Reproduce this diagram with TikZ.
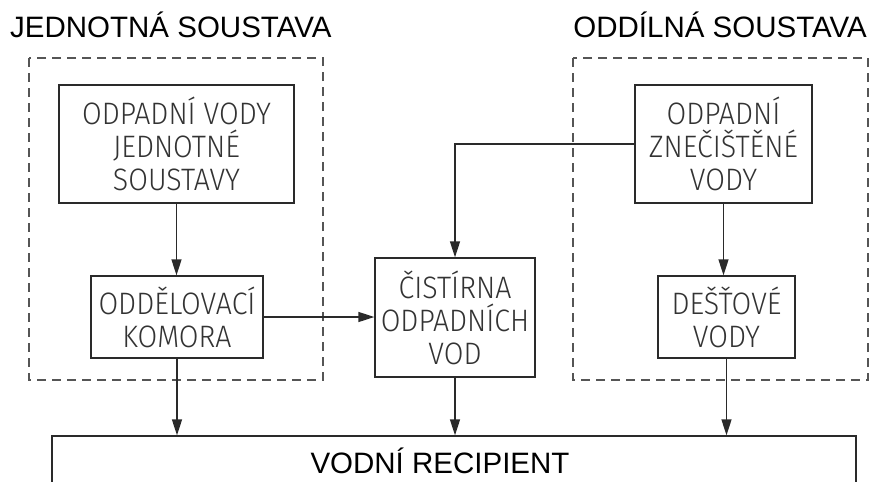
\documentclass[tikz,border=0pt]{standalone}
\usepackage{fontspec}
\setmainfont{Liberation Sans}
\newfontfamily\cadfont[FakeStretch=0.92]{Fira Sans Light}
\usetikzlibrary{arrows.meta}
\definecolor{linecol}{HTML}{2A2A2A}
\definecolor{dashcol}{HTML}{555555}
\definecolor{cadtext}{HTML}{333333}
\begin{document}
\begin{tikzpicture}[x=1pt,y=-1pt,
  box/.style={draw=linecol, line width=1.3pt, inner sep=0pt, align=center,
    text=cadtext, font=\cadfont\fontsize{31}{33}\selectfont},
  title/.style={inner sep=0pt, font=\fontsize{29.5}{32}\selectfont, text=black},
  group/.style={draw=dashcol, line width=1.3pt, dash pattern=on 9pt off 6pt},
  flow/.style={draw=linecol, line width=1.3pt, -{Triangle[length=16pt,width=10pt]}},
  plain/.style={draw=linecol, line width=1.3pt}]
\useasboundingbox (0,0) rectangle (873,482);
\clip (0,0) rectangle (873,482);
\fill[white] (0,0) rectangle (873,482);

% titles
\node[title, anchor=base west] (t1) at (10,37) {JEDNOTNÁ SOUSTAVA};
\node[title, anchor=base east] (t2) at (867,37) {ODDÍLNÁ SOUSTAVA};

% dashed group frames
\draw[group] (29,58) rectangle (323,380);
\draw[group] (573,58) rectangle (868,380);

% boxes
\node[box, minimum width=235pt, minimum height=118pt] (A) at (176.5,144) {ODPADNÍ VODY\\JEDNOTNÉ\\SOUSTAVY};
\node[box, minimum width=172pt, minimum height=82pt] (B) at (177,317) {ODDĚLOVACÍ\\KOMORA};
\node[box, minimum width=160pt, minimum height=119pt] (C) at (455,317.5) {ČISTÍRNA\\ODPADNÍCH\\VOD};
\node[box, minimum width=177pt, minimum height=118pt] (D) at (723.5,144) {ODPADNÍ\\ZNEČIŠTĚNÉ\\VODY};
\node[box, minimum width=137pt, minimum height=82pt] (E) at (726.5,317) {DEŠŤOVÉ\\VODY};

% recipient (open at the bottom, cut by the page edge)
\node[draw=linecol, line width=1.3pt, minimum width=804pt, minimum height=60pt, inner sep=0pt] (R) at (454,466) {};
\node[title, anchor=base] (Rt) at (440,473) {VODNÍ RECIPIENT};

% connectors
\draw[flow] (A.south) -- (A.south |- B.north);
\draw[flow] (B.east) -- (B.east -| C.west);
\draw[flow] (D.west) -- (C.north |- D.west) -- (C.north);
\draw[flow] (D.south) -- (D.south |- E.north);
\draw[flow] (B.south) -- (B.south |- R.north);
\draw[flow] (C.south) -- (C.south |- R.north);
\draw[flow] (E.south) -- (E.south |- R.north);
\end{tikzpicture}
\end{document}
